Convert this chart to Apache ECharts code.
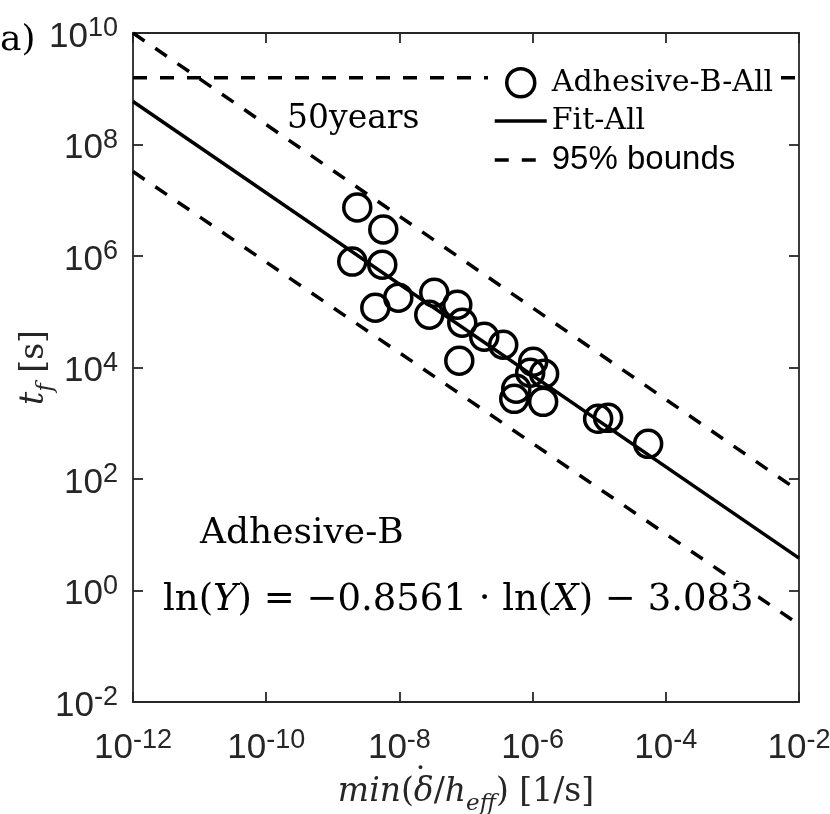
<!DOCTYPE html>
<html>
<head>
<meta charset="utf-8">
<script src="https://cdn.jsdelivr.net/npm/echarts@6/dist/echarts.min.js"></script>
<style>
  html, body { margin: 0; padding: 0; background: #fff; }
  #chart { width: 830px; height: 814px; }
</style>
</head>
<body>
<div id="chart"></div>
<script>
// measured points (strain rate 1/s, time to failure s)
const rateX = [2.33e-9, 5.73e-9, 1.96e-9, 5.53e-9, 4.35e-9, 9.62e-9, 3.34e-8, 2.81e-8, 7.40e-8, 8.79e-8, 1.88e-7,
  7.93e-8, 3.62e-7, 1.02e-6, 1.49e-6, 9.20e-7, 5.68e-7, 5.30e-7, 1.44e-6, 9.64e-6, 1.36e-5, 5.43e-5]
const timeY = [7.40e6, 2.98e6, 7.93e5, 7.00e5, 1.18e5, 1.79e5, 2.20e5, 8.85e4, 1.34e5, 6.35e4, 3.56e4,
  1.32e4, 2.56e4, 1.27e4, 7.71e3, 8.04e3, 4.15e3, 2.74e3, 2.42e3, 1.20e3, 1.25e3, 4.27e2]

// fit line + bounds, read at the two ends of the x range
const lineX = [1e-12, 1e-2]
const fitY = [5.92e8, 3.81]
const upperY = [1e10, 60.8]
const lowerY = [3.27e7, 0.245]
const years50 = 1.578e9

const xRange = [1e-12, 1e-2]
const yRange = [1e-2, 1e10]

const pair = (xs, ys) => xs.map((x, i) => [x, ys[i]])

const SANS = "'Liberation Sans', Arial, sans-serif"
const SERIF = "'DejaVu Serif', serif"
const AX = '#262626'
const LW = 3.5
const DASH = [14, 13]
const NONE = 'rgba(0,0,0,0)'

const powRich = {
  b: { fontFamily: SANS, fontSize: 35, lineHeight: 39, verticalAlign: 'bottom', color: AX },
  e: { fontFamily: SANS, fontSize: 27, lineHeight: 27, verticalAlign: 'top', color: AX },
}
const powLabel = v => '{b|10}{e|' + Math.round(Math.log10(v)) + '}'

const nameRich = {
  it: { fontFamily: SERIF, fontStyle: 'italic', fontSize: 33, lineHeight: 40, verticalAlign: 'top', color: AX },
  rm: { fontFamily: SERIF, fontSize: 33, lineHeight: 40, verticalAlign: 'top', color: AX },
  sub: { fontFamily: SERIF, fontStyle: 'italic', fontSize: 23, lineHeight: 18, verticalAlign: 'bottom', color: AX },
}

const myChart = echarts.init(document.getElementById('chart'), null, { renderer: 'canvas' })

const baseAxis = (pos, range) => ({
  type: 'log',
  logBase: 100,
  position: pos,
  min: range[0],
  max: range[1],
  axisLine: { show: true, onZero: false, lineStyle: { color: AX, width: 1.8 } },
  axisTick: { show: true, inside: true, length: 10, lineStyle: { color: AX, width: 1.8 } },
  splitLine: { show: false },
  minorTick: { show: false },
})

const option = {
  animation: false,
  backgroundColor: '#fff',
  grid: { left: 133, right: 31, top: 33, bottom: 112, containLabel: false, outerBoundsMode: 'none' },
  xAxis: [
    Object.assign(baseAxis('bottom', xRange), {
      axisLabel: { margin: 25, formatter: powLabel, rich: powRich, showMinLabel: true, showMaxLabel: true },
      name: '{it|min}{rm|(}{it|δ}{rm|/}{it|h}{sub|eff}{rm|) [1/s]}',
      nameLocation: 'middle',
      nameGap: 74,
      nameMoveOverlap: false,
      nameTextStyle: { rich: nameRich },
    }),
    Object.assign(baseAxis('top', xRange), { axisLabel: { show: false } }),
  ],
  yAxis: [
    Object.assign(baseAxis('left', yRange), {
      axisLabel: { margin: 15, padding: [4, 0, 0, 0], formatter: powLabel, rich: powRich, showMinLabel: true, showMaxLabel: true },
      name: '{it|t}{sub|f}{rm| [s]}',
      nameLocation: 'middle',
      nameRotate: 90,
      nameGap: 75,
      nameMoveOverlap: false,
      nameTextStyle: { rich: nameRich },
    }),
    Object.assign(baseAxis('right', yRange), { axisLabel: { show: false } }),
  ],
  legend: {
    orient: 'vertical',
    left: 488,
    top: 57,
    padding: [10, 4, 10, 5],
    backgroundColor: '#fff',
    itemWidth: 52,
    itemHeight: 28,
    itemGap: 7.5,
    selectedMode: false,
    itemStyle: { borderWidth: LW },
    lineStyle: { width: LW },
    textStyle: { color: '#000', lineHeight: 30 },
    data: [
      { name: 'Adhesive-B-All', textStyle: { fontFamily: SERIF, fontSize: 30 } },
      { name: 'Fit-All', textStyle: { fontFamily: SERIF, fontSize: 30 } },
      { name: '95% bounds', textStyle: { fontFamily: SANS, fontSize: 33 } },
    ],
  },
  graphic: [
    { type: 'text', left: 0, top: 23, z: 10, style: { text: 'a)', font: '36px ' + SERIF, fill: '#000' } },
    { type: 'text', left: 287, top: 103, z: 10, style: { text: '50years', font: '33px ' + SERIF, fill: '#000' } },
    { type: 'text', left: 200, top: 516, z: 10, style: { text: 'Adhesive-B', font: '36px ' + SERIF, fill: '#000' } },
    {
      type: 'text', left: 163, top: 582, z: 10,
      style: {
        text: '{rm|ln(}{it|Y}{rm|) = −0.8561 · ln(}{it|X}{rm|) − 3.083}',
        backgroundColor: '#fff',
        padding: [0, 4, 0, 0],
        rich: {
          rm: { fontFamily: SERIF, fontSize: 37, fill: '#000' },
          it: { fontFamily: SERIF, fontStyle: 'italic', fontSize: 37, fill: '#000' },
        },
      },
    },
    // dot over the delta in the x-axis title
    { type: 'text', left: 412, top: 765, z: 10, style: { text: '˙', font: '34px ' + SERIF, fill: AX } },
  ],
  series: [
    {
      name: '50years',
      type: 'line',
      data: pair(lineX, [years50, years50]),
      symbol: 'none',
      lineStyle: { color: '#000', width: LW, type: DASH },
      z: 1,
    },
    {
      name: 'Adhesive-B-All',
      type: 'scatter',
      data: pair(rateX, timeY),
      symbol: 'circle',
      symbolSize: 27,
      symbolKeepAspect: true,
      itemStyle: { color: NONE, borderColor: '#000', borderWidth: LW, opacity: 1 },
      z: 3,
    },
    {
      name: 'Fit-All',
      type: 'line',
      data: pair(lineX, fitY),
      symbol: 'none',
      itemStyle: { color: NONE, borderColor: NONE },
      lineStyle: { color: '#000', width: LW, type: 'solid' },
    },
    {
      name: '95% bounds',
      type: 'line',
      data: pair(lineX, upperY),
      symbol: 'none',
      itemStyle: { color: NONE, borderColor: NONE },
      lineStyle: { color: '#000', width: LW, type: DASH },
    },
    {
      name: '95% bounds',
      type: 'line',
      data: pair(lineX, lowerY),
      symbol: 'none',
      itemStyle: { color: NONE, borderColor: NONE },
      lineStyle: { color: '#000', width: LW, type: DASH },
    },
  ],
}

myChart.setOption(option)
</script>
</body>
</html>
